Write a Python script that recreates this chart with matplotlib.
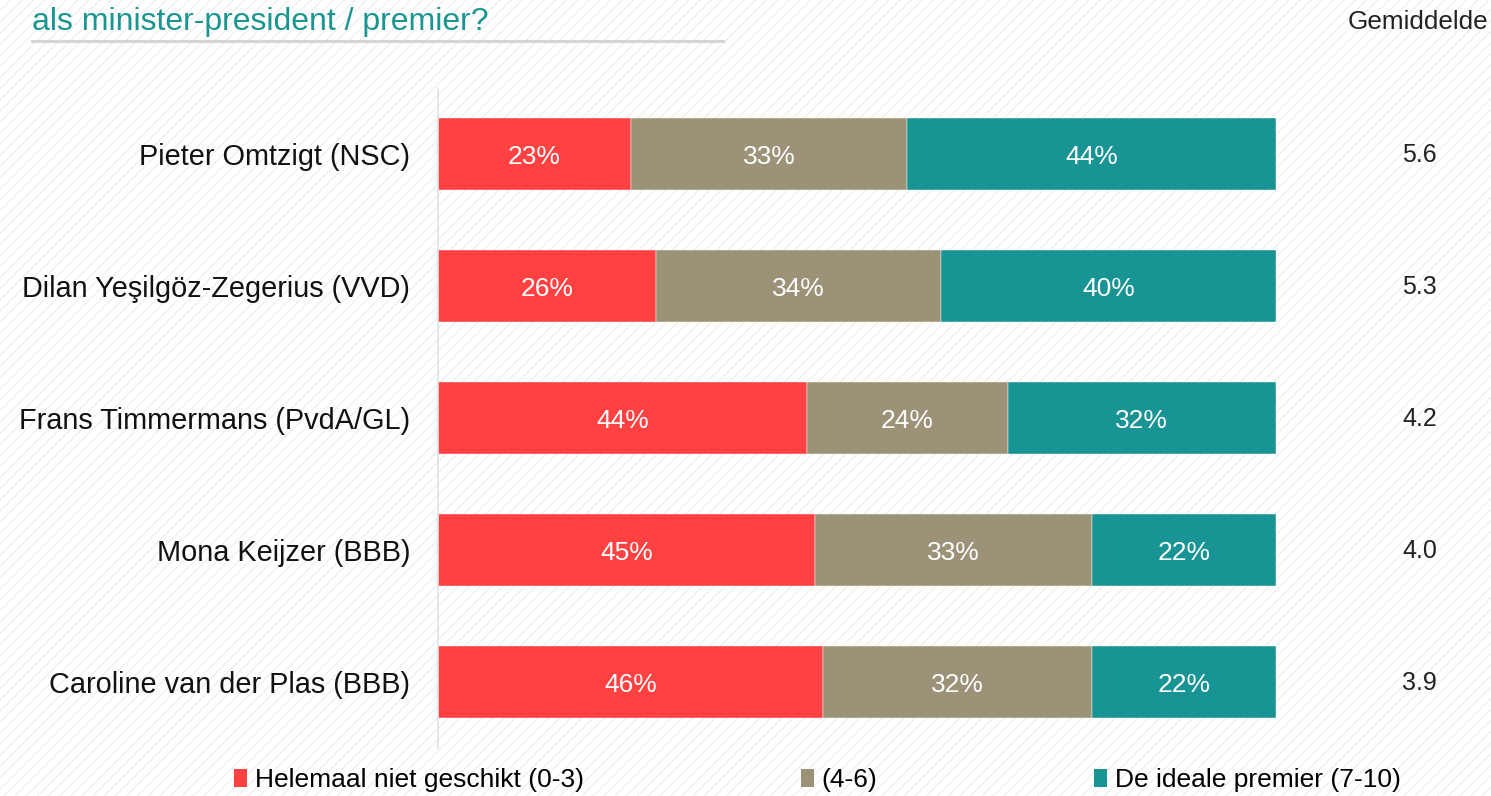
import matplotlib.pyplot as plt
from matplotlib.patches import Rectangle, Patch
from matplotlib.lines import Line2D

plt.rcParams['font.family'] = ['Liberation Sans', 'DejaVu Sans']

candidates = ["Pieter Omtzigt (NSC)", "Dilan Yeşilgöz-Zegerius (VVD)",
              "Frans Timmermans (PvdA/GL)", "Mona Keijzer (BBB)",
              "Caroline van der Plas (BBB)"]
niet_geschikt = [23, 26, 44, 45, 46]
midden = [33, 34, 24, 33, 32]
ideaal = [44, 40, 32, 22, 22]
gemiddelde = ["5.6", "5.3", "4.2", "4.0", "3.9"]
series_labels = ["Helemaal niet geschikt (0-3)", "(4-6)", "De ideale premier (7-10)"]
colors = ["#FF4142", "#9C9277", "#179493"]

fig = plt.figure(figsize=(14.91, 7.96), dpi=100)

# faint diagonal background pattern
plt.rcParams['hatch.linewidth'] = 0.8
bg = Rectangle((0, 0), 1, 1, transform=fig.transFigure, facecolor="white",
               edgecolor="#EDEDED", hatch="///", linewidth=0, zorder=-10)
fig.patches.append(bg)

ax = fig.add_axes([438/1491, 1 - 748/796, (1276-438)/1491, 660/796])
ax.patch.set_alpha(0)

y = list(range(len(candidates)))
left = [0] * len(candidates)
for vals, col in zip([niet_geschikt, midden, ideaal], colors):
    bars = ax.barh(y, vals, left=left, height=0.55, color=col,
                   edgecolor="white", linewidth=0.3)
    for b, v in zip(bars, vals):
        ax.text(b.get_x() + b.get_width()/2, b.get_y() + b.get_height()/2 + 0.025,
                f"{v}%", ha="center", va="center", color="white", fontsize=19)
    left = [l + v for l, v in zip(left, vals)]

ax.set_xlim(0, 100)
ax.set_ylim(len(candidates) - 0.5, -0.5)
ax.set_yticks(y)
ax.set_yticklabels(candidates, fontsize=20.8, color="#111111")
ax.tick_params(axis="y", length=0, pad=20)
ax.set_xticks([])
for s in ["top", "right", "bottom"]:
    ax.spines[s].set_visible(False)
ax.spines["left"].set_color("#E2E2E2")
ax.spines["left"].set_linewidth(1.2)

for yi, m in zip(y, gemiddelde):
    ax.text(119.2, yi + 0.01, m, ha="right", va="center", fontsize=18,
            color="#222222", clip_on=False)

fig.text(1488/1491, 1 - 22/796, "Gemiddelde", ha="right", va="center",
         fontsize=18.8, color="#222222")

fig.text(32/1491, 1 - 22/796, "als minister-president / premier?",
         ha="left", va="center", fontsize=23, color="#1A9690")
fig.add_artist(Line2D([32/1491, 723/1491], [1 - 41/796, 1 - 41/796],
                      transform=fig.transFigure, color="#D5D5D5", linewidth=2.2))

handles = [Patch(facecolor=c, edgecolor="none") for c in colors]
fig.legend(handles, series_labels, loc="center left",
           bbox_to_anchor=(234/1491, 1 - 780/796), ncol=3, frameon=False,
           fontsize=19, handlelength=0.5, handleheight=0.65,
           handletextpad=0.3, columnspacing=8.2, borderaxespad=0,
           borderpad=0)

fig.savefig("out.png", dpi=100)
